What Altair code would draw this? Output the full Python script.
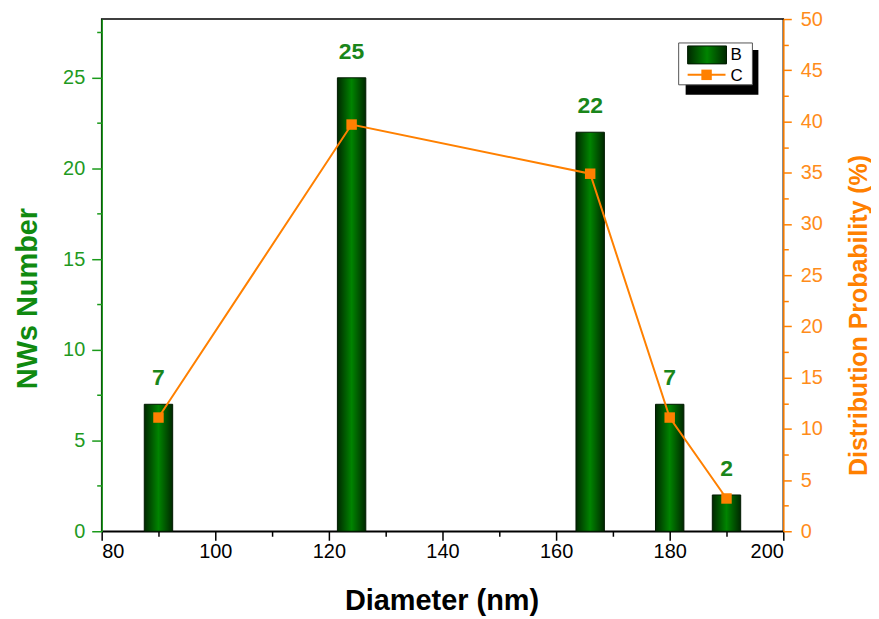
import altair as alt
import pandas as pd

# Data
diameters = [90, 124, 166, 180, 190]
counts = [7, 25, 22, 7, 2]
probs = [11.1, 39.7, 34.9, 11.1, 3.2]

x_ticks = list(range(80, 201, 10))
y_left_ticks = [i * 2.5 for i in range(0, 12)]
y_right_ticks = [i * 2.5 for i in range(0, 21)]

df = pd.DataFrame({"d": diameters, "n": counts, "p": probs})
one = pd.DataFrame({"k": [0]})

GREEN_LAB = "#1f9a1f"
GREEN_TIT = "#108a10"
ORANGE = "#ff8000"
ORANGE_LAB = "#ff8c1a"
FONT = "Liberation Sans"

W, H = 684, 514

grad = alt.Gradient(
    gradient="linear",
    stops=[
        alt.GradientStop(color="#002800", offset=0),
        alt.GradientStop(color="#008400", offset=0.5),
        alt.GradientStop(color="#002800", offset=1),
    ],
    x1=0, x2=1, y1=0, y2=0,
)

xscale = alt.Scale(domain=[80, 200], nice=False, zero=False)
x_axis = alt.Axis(
    values=x_ticks,
    labelExpr="datum.value % 20 === 0 ? datum.label : ''",
    tickSize={"condition": {"test": "datum.value % 20 !== 0", "value": 5}, "value": 9},
    domainColor="black", tickColor="black", domainWidth=1.5, tickWidth=1.5,
    labelFont=FONT, labelFontSize=20, labelColor="black", labelPadding=1,
    title="Diameter (nm)", titleFont=FONT, titleFontSize=29, titleFontWeight="bold",
    titleColor="black", titleX=341, titleY=70, titleBaseline="middle",
    grid=False,
)
yl_axis = alt.Axis(
    orient="left", values=y_left_ticks,
    labelExpr="datum.value % 5 === 0 ? datum.label : ''",
    tickSize={"condition": {"test": "datum.value % 5 !== 0", "value": 5}, "value": 10},
    domainColor="#1a9a1a", tickColor="#1a9a1a", domainWidth=1.5, tickWidth=1.5,
    labelFont=FONT, labelFontSize=20, labelColor=GREEN_LAB, labelPadding=7,
    title="NWs Number", titleFont=FONT, titleFontSize=29, titleFontWeight="bold",
    titleColor=GREEN_TIT, titleX=-74, titleY=280, titleAngle=270,
    titleBaseline="middle", grid=False,
)
yr_axis = alt.Axis(
    orient="right", values=y_right_ticks,
    labelExpr="datum.value % 5 === 0 ? datum.label : ''",
    tickSize={"condition": {"test": "datum.value % 5 !== 0", "value": 5}, "value": 8},
    domainColor=ORANGE, tickColor=ORANGE, domainWidth=1.5, tickWidth=1.5,
    labelFont=FONT, labelFontSize=20, labelColor=ORANGE_LAB, labelPadding=9,
    title="Distribution Probability (%)", titleFont=FONT, titleFontSize=25,
    titleFontWeight="bold", titleColor=ORANGE, titleX=75, titleY=297,
    titleAngle=270, titleBaseline="middle", grid=False,
)

yl_scale = alt.Scale(domain=[0, 28.24], nice=False)
yr_scale = alt.Scale(domain=[0, 50], nice=False)

base = alt.Chart(df)

bars = base.transform_calculate(
    x0="datum.d - 2.5", x1="datum.d + 2.5"
).mark_rect(fill=grad, stroke="#001a00", strokeWidth=1).encode(
    x=alt.X("x0:Q", scale=xscale, axis=x_axis),
    x2="x1:Q",
    y=alt.Y("n:Q", scale=yl_scale, axis=yl_axis),
    y2=alt.datum(0),
)

labels = base.mark_text(
    font=FONT, fontSize=23, fontWeight="bold", color="#1a861a",
    baseline="alphabetic", dy=-19,
).encode(
    x=alt.X("d:Q", scale=xscale),
    y=alt.Y("n:Q", scale=yl_scale),
    text="n:Q",
)

left = alt.layer(bars, labels)

line = base.mark_line(
    color=ORANGE, strokeWidth=2,
    point=alt.OverlayMarkDef(shape="square", size=110, filled=True, color=ORANGE, opacity=1),
).encode(
    x=alt.X("d:Q", scale=xscale),
    y=alt.Y("p:Q", scale=yr_scale, axis=yr_axis),
)

# Legend (custom box with shadow)
lg = alt.Chart(one)
shadow = lg.mark_rect(fill="black").encode(
    x=alt.value(586), x2=alt.value(659), y=alt.value(31), y2=alt.value(76))
box = lg.mark_rect(fill="white", stroke="#555555", strokeWidth=1).encode(
    x=alt.value(579), x2=alt.value(653), y=alt.value(24), y2=alt.value(66))
swatch = lg.mark_rect(fill=grad, stroke="#001a00", strokeWidth=1).encode(
    x=alt.value(588), x2=alt.value(627), y=alt.value(27), y2=alt.value(45))
leg_line = lg.mark_rule(color=ORANGE, strokeWidth=2).encode(
    x=alt.value(588), x2=alt.value(626), y=alt.value(56))
leg_pt = lg.mark_square(size=110, color=ORANGE, opacity=1).encode(
    x=alt.value(607), y=alt.value(56))
leg_b = lg.mark_text(font=FONT, fontSize=17, align="left", baseline="middle", color="black").encode(
    x=alt.value(631), y=alt.value(36), text=alt.value("B"))
leg_c = lg.mark_text(font=FONT, fontSize=17, align="left", baseline="middle", color="black").encode(
    x=alt.value(631), y=alt.value(57), text=alt.value("C"))

main = alt.layer(left, line).resolve_scale(y="independent")

chart = alt.layer(
    main, shadow, box, swatch, leg_line, leg_pt, leg_b, leg_c
).properties(
    width=W, height=H,
    autosize=alt.AutoSizeParams(type="none"),
    padding={"left": 94, "top": 10, "right": 88, "bottom": 95},
    background="white",
).configure_view(stroke="black", strokeWidth=1.5)

chart.save("out.html", embed_options={"renderer": "svg", "actions": False})
